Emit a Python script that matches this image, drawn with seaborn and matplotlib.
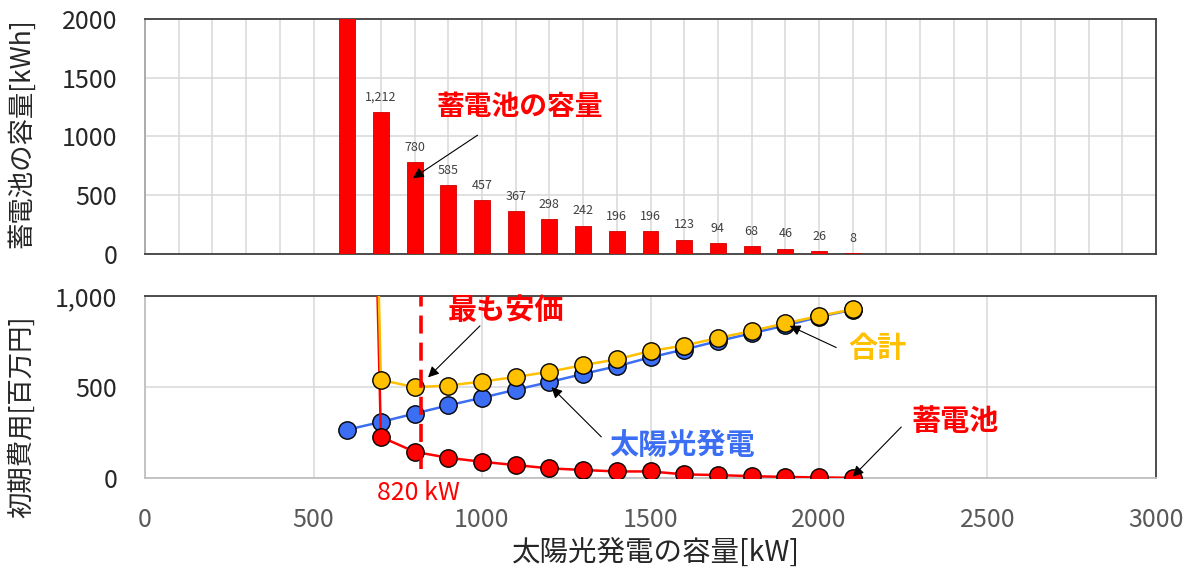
import matplotlib
matplotlib.use("Agg")
import matplotlib.pyplot as plt
import seaborn as sns
import numpy as np

# Solar capacity [kW]
pv_kw = [600, 700, 800, 900, 1000, 1100, 1200, 1300, 1400, 1500, 1600, 1700, 1800, 1900, 2000, 2100]
# Required battery capacity [kWh] (first value runs far above the axis)
battery_kwh = [43000, 1212, 780, 585, 457, 367, 298, 242, 196, 196, 123, 94, 68, 46, 26, 8]
# Initial cost [million yen]
cost_pv = [265, 308, 354, 399, 441, 485, 527, 572, 614, 663, 706, 752, 795, 838, 885, 925]
cost_battery = [8000, 226, 144, 111, 89, 71, 53, 44, 36, 36, 20, 16, 10, 6, 3, 1]
cost_total = [8265, 539, 499, 508, 530, 555, 584, 620, 652, 698, 728, 769, 808, 850, 890, 927]
cheapest_kw = 820

RED = "#FF0000"
YELLOW = "#FFC000"
BLUE = "#3B6EF3"
GRID = "#D9D9D9"

sns.set_style("white")
plt.rcParams["font.family"] = ["Noto Sans CJK JP", "DejaVu Sans"]

fig = plt.figure(figsize=(11.96, 5.74), dpi=100)
L, R = 145 / 1196, 1156 / 1196
ax1 = fig.add_axes([L, 1 - 254 / 574, R - L, (254 - 19) / 574])
ax2 = fig.add_axes([L, 1 - 478 / 574, R - L, (478 - 296) / 574])

# ---- top: battery capacity bars ----
sns.barplot(x=pv_kw, y=battery_kwh, native_scale=True, width=0.47, color=RED,
            saturation=1, edgecolor="#D00000", linewidth=0.6, ax=ax1, zorder=3)
ax1.set_xlim(0, 3000)
ax1.set_ylim(0, 2000)
ax1.set_yticks([0, 500, 1000, 1500, 2000])
ax1.set_yticklabels(["0", "500", "1000", "1500", "2000"])
ax1.set_xticks(np.arange(0, 3001, 100))
ax1.set_xticklabels([])
ax1.grid(True, color=GRID, lw=1.1, zorder=0)
ax1.set_axisbelow(True)
ax1.tick_params(axis="both", length=0, labelsize=18, pad=20)
labels = [""] + [f"{v:,}" for v in battery_kwh[1:]]
ax1.bar_label(ax1.containers[0], labels=labels, padding=6, fontsize=9, color="#404040")
for s in ["top", "right", "bottom"]:
    ax1.spines[s].set_color("#404040")
ax1.spines["left"].set_color("#A6A6A6")
for s in ax1.spines.values():
    s.set_linewidth(1.3)
ax1.set_xlabel("")
ax1.set_ylabel("蓄電池の容量[kWh]", fontsize=19)
ax1.yaxis.set_label_coords(-0.109, 0.515)

ax1.annotate("蓄電池の容量", xy=(795, 645), xytext=(1112, 1250), ha="center", va="center",
             fontsize=20, fontweight="bold", color=RED,
             arrowprops=dict(arrowstyle="-|>", color="black", lw=0.8, mutation_scale=16,
                             shrinkA=14, shrinkB=0))

# ---- bottom: initial cost lines ----
mk = dict(marker="o", markersize=12.5, markeredgecolor="black", markeredgewidth=1.0, linewidth=1.8)
sns.lineplot(x=pv_kw, y=cost_pv, color=BLUE, ax=ax2, zorder=3, **mk)
sns.lineplot(x=pv_kw, y=cost_battery, color=RED, ax=ax2, zorder=4, **mk)
sns.lineplot(x=pv_kw, y=cost_total, color=YELLOW, ax=ax2, zorder=5, **mk)
ax2.axvline(cheapest_kw, ymin=0.05, ymax=1, color=RED, lw=2.6, linestyle=(0, (5, 2.5)), zorder=6)

ax2.set_xlim(0, 3000)
ax2.set_ylim(0, 1000)
ax2.set_xticks(np.arange(0, 3001, 500))
ax2.set_xticklabels([str(v) for v in range(0, 3001, 500)])
ax2.set_yticks([0, 500, 1000])
ax2.set_yticklabels(["0", "500", "1,000"])
ax2.grid(True, color=GRID, lw=1.1, zorder=0)
ax2.set_axisbelow(True)
ax2.tick_params(axis="y", length=0, labelsize=18, pad=20)
ax2.tick_params(axis="x", length=0, labelsize=18, pad=21, labelcolor="#595959")
for s in ["top", "right"]:
    ax2.spines[s].set_color("#404040")
for s in ["left", "bottom"]:
    ax2.spines[s].set_color("#BFBFBF")
for s in ax2.spines.values():
    s.set_linewidth(1.3)
ax2.set_xlabel("太陽光発電の容量[kW]", fontsize=20.5)
ax2.xaxis.set_label_coords(0.505, -0.33)
ax2.set_ylabel("初期費用[百万円]", fontsize=19)
ax2.yaxis.set_label_coords(-0.109, 0.335)

ax2.text(810, -82, f"{cheapest_kw} kW", color=RED, fontsize=18, ha="center", va="center", clip_on=False)

arrow = dict(arrowstyle="-|>", color="black", lw=0.8, mutation_scale=16, shrinkA=0, shrinkB=0)
ax2.text(1071, 923, "最も安価", color=RED, fontsize=21, fontweight="bold", ha="center", va="center")
ax2.annotate("", xy=(840, 553), xytext=(994, 836), arrowprops=arrow)
ax2.text(2174, 716, "合計", color=YELLOW, fontsize=21, fontweight="bold", ha="center", va="center")
ax2.annotate("", xy=(1913, 836), xytext=(2051, 717), arrowprops=arrow, zorder=7)
ax2.text(1593, 180, "太陽光発電", color=BLUE, fontsize=21, fontweight="bold", ha="center", va="center")
ax2.annotate("", xy=(1206, 499), xytext=(1354, 226), arrowprops=arrow, zorder=7)
ax2.text(2405, 311, "蓄電池", color=RED, fontsize=21, fontweight="bold", ha="center", va="center")
ax2.annotate("", xy=(2100, 7), xytext=(2244, 280), arrowprops=arrow, zorder=7)

fig.savefig("out.png", dpi=100)
